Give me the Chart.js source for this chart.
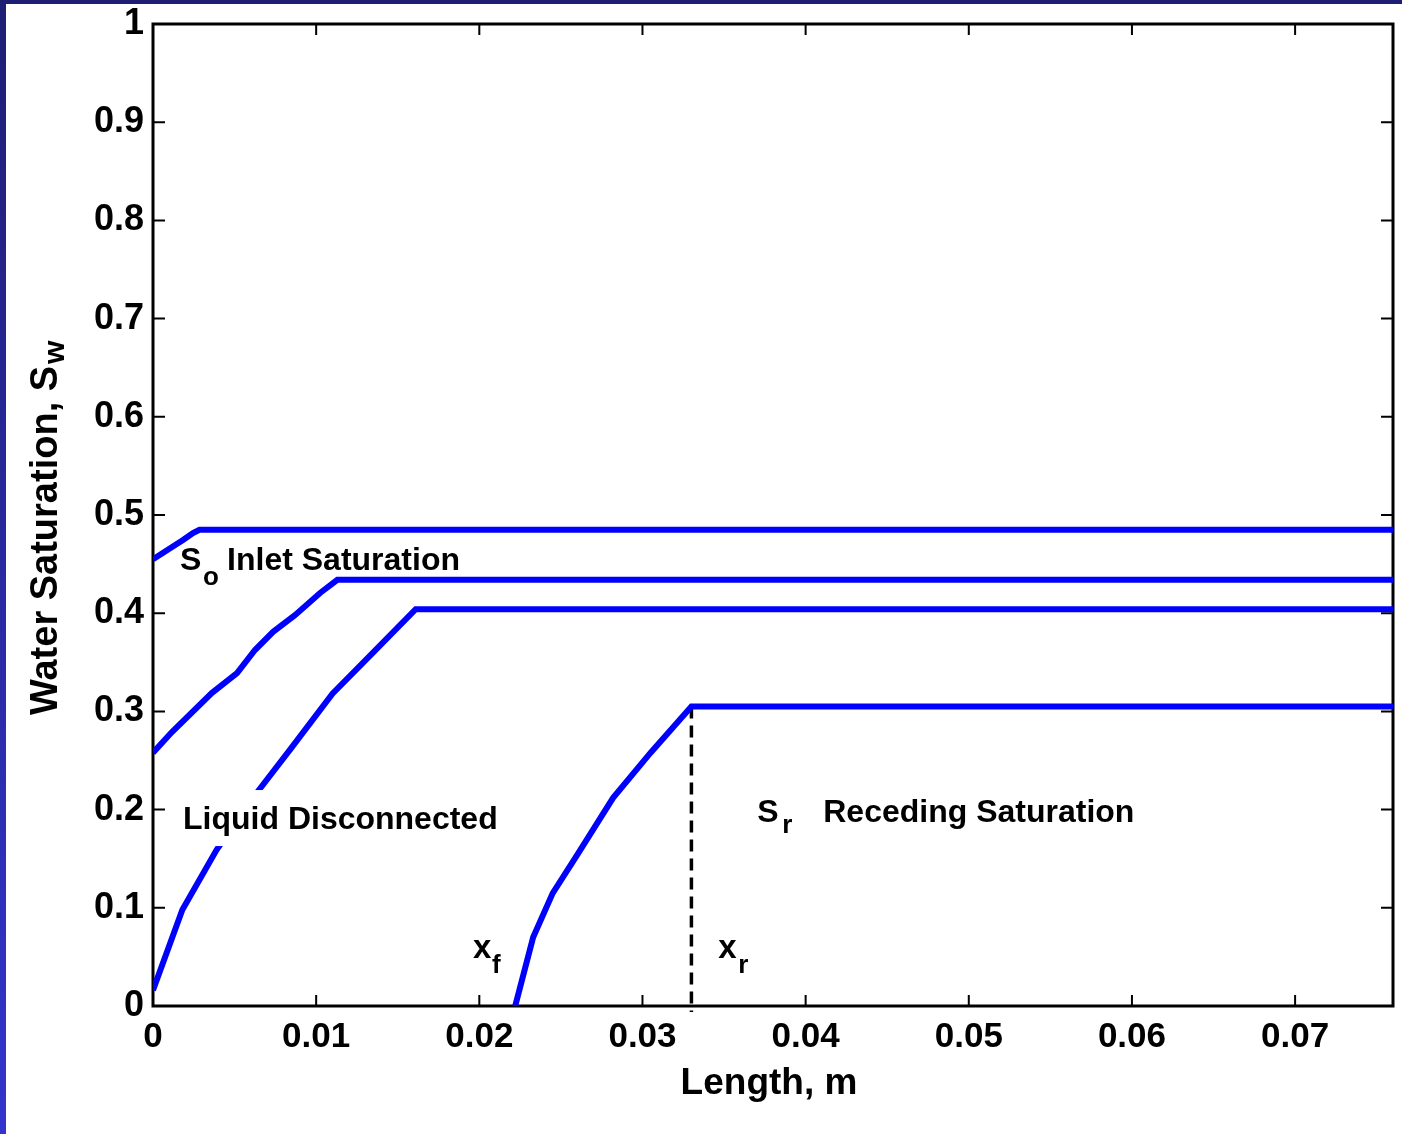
<!DOCTYPE html>
<html>
<head>
<meta charset="utf-8">
<script src="https://cdn.jsdelivr.net/npm/chart.js@4.4.0/dist/chart.umd.min.js"></script>
<style>
html,body{margin:0;padding:0;background:#fff;}
#wrap{position:relative;width:1402px;height:1134px;overflow:hidden;}
#topbar{position:absolute;left:0;top:0;width:1402px;height:4px;background:#1e1e74;}
#leftbar{position:absolute;left:0;top:0;width:6px;height:1134px;background:linear-gradient(#1e1e74,#3434cc);}
canvas{position:absolute;left:0;top:0;}
</style>
</head>
<body>
<div id="wrap">
<canvas id="satChart" width="1402" height="1134"></canvas>
<div id="topbar"></div>
<div id="leftbar"></div>
</div>
<script>
// inlet saturation profile
const inletLen = [0, 0.00117, 0.00184, 0.00245, 0.00285, 0.076];
const inletSw  = [0.455, 0.4674, 0.4745, 0.4817, 0.485, 0.485];

// second profile
const midLen = [0, 0.00116, 0.0036, 0.00515, 0.00625, 0.00736, 0.0087, 0.01024, 0.0113, 0.076];
const midSw  = [0.258, 0.279, 0.3187, 0.339, 0.3625, 0.381, 0.398, 0.4206, 0.434, 0.434];

// liquid disconnected profile
const discLen = [0, 0.0018, 0.0039, 0.0064, 0.0084, 0.011, 0.0135, 0.0161, 0.076];
const discSw  = [0.016, 0.098, 0.159, 0.218, 0.261, 0.318, 0.36, 0.404, 0.404];

// receding profile
const recLen = [0.0222, 0.0233, 0.0245, 0.026, 0.0282, 0.0305, 0.033, 0.076];
const recSw  = [0, 0.070, 0.115, 0.154, 0.212, 0.258, 0.305, 0.305];

// x_r marker
const markLen = [0.033, 0.033];
const markSw  = [0.305, -0.006];

const xTicks = [0, 0.01, 0.02, 0.03, 0.04, 0.05, 0.06, 0.07];

const FONT = "'Liberation Sans', Arial, Helvetica, sans-serif";

const notes = [
    {t:'S', x:0.00166, y:0.444, s:32},
    {t:'o', x:0.00307, y:0.4287, s:26},
    {t:'Inlet Saturation', x:0.00454, y:0.444, s:32},
    {t:'Liquid Disconnected', x:0.00184, y:0.1802, s:32, bg:true},
    {t:'x', x:0.01962, y:0.0489, s:33},
    {t:'f', x:0.02078, y:0.0336, s:26},
    {t:'x', x:0.03464, y:0.0489, s:33},
    {t:'r', x:0.03587, y:0.0336, s:26},
    {t:'S', x:0.03703, y:0.1874, s:32},
    {t:'r', x:0.03857, y:0.1762, s:26},
    {t:'Receding Saturation', x:0.04108, y:0.1874, s:32}
];

function pts(xs, ys){
    return xs.map((v,i) => ({x:v, y:ys[i]}));
}

function curve(xs, ys){
    return {
        data: pts(xs, ys),
        borderColor: '#0000ff',
        borderWidth: 6,
        pointRadius: 0,
        showLine: true,
        fill: false,
        tension: 0
    };
}

const framePlugin = {
    id: 'frame',
    beforeDatasetsDraw(chart){
        const {ctx, chartArea:a, scales:{x, y}} = chart;
        ctx.save();
        ctx.strokeStyle = '#000';
        ctx.lineWidth = 2;
        ctx.beginPath();
        x.ticks.forEach(t => {
            const px = x.getPixelForValue(t.value);
            ctx.moveTo(px, a.bottom); ctx.lineTo(px, a.bottom - 11);
            ctx.moveTo(px, a.top); ctx.lineTo(px, a.top + 11);
        });
        y.ticks.forEach(t => {
            const py = y.getPixelForValue(t.value);
            ctx.moveTo(a.left, py); ctx.lineTo(a.left + 12, py);
            ctx.moveTo(a.right, py); ctx.lineTo(a.right - 12, py);
        });
        ctx.stroke();
        ctx.lineWidth = 3;
        ctx.strokeRect(a.left, a.top, a.right - a.left, a.bottom - a.top);
        ctx.restore();
    },
    afterDatasetsDraw(chart){
        const {ctx, chartArea:a, scales:{x, y}} = chart;
        ctx.save();
        ctx.fillStyle = '#000';
        ctx.textBaseline = 'alphabetic';
        ctx.textAlign = 'left';

        notes.forEach(n => {
            ctx.font = 'bold ' + n.s + 'px ' + FONT;
            const px = x.getPixelForValue(n.x);
            const py = y.getPixelForValue(n.y);
            if (n.bg){
                const w = ctx.measureText(n.t).width;
                ctx.fillStyle = '#fff';
                ctx.fillRect(px - 8, py - 39, w + 16, 56);
                ctx.fillStyle = '#000';
            }
            ctx.fillText(n.t, px, py);
        });

        // x axis title
        ctx.font = 'bold 37px ' + FONT;
        ctx.textAlign = 'center';
        ctx.fillText('Length, m', (a.left + a.right) / 2 - 4, a.bottom + 88);

        // y axis title with subscript
        ctx.translate(57, a.bottom - 291);
        ctx.rotate(-Math.PI / 2);
        ctx.textAlign = 'left';
        ctx.font = 'bold 38px ' + FONT;
        const main = 'Water Saturation, S';
        const mw = ctx.measureText(main).width;
        ctx.fillText(main, 0, 0);
        ctx.font = 'bold 30px ' + FONT;
        ctx.fillText('w', mw + 2, 7);
        ctx.restore();
    }
};

function fmt(v){
    return String(Number(v.toFixed(3)));
}

new Chart(
    document.getElementById("satChart"),
    {
        type: 'scatter',
        data: {
            datasets: [
                curve(inletLen, inletSw),
                curve(midLen, midSw),
                curve(discLen, discSw),
                curve(recLen, recSw),
                {
                    data: pts(markLen, markSw),
                    borderColor: '#000',
                    borderWidth: 3.5,
                    borderDash: [12, 7],
                    pointRadius: 0,
                    showLine: true,
                    clip: false
                }
            ]
        },
        options: {
            responsive: false,
            animation: false,
            events: [],
            layout: { padding: { top: 24, right: 9, left: 0, bottom: 0 } },
            plugins: { legend: { display: false }, tooltip: { enabled: false } },
            scales: {
                x: {
                    type: 'linear',
                    min: 0,
                    max: 0.076,
                    afterBuildTicks: s => { s.ticks = xTicks.map(v => ({value: v})); },
                    afterFit: s => {
                        s.height = 128;
                        s.paddingLeft = 0; s.paddingRight = 0;
                    },
                    grid: { display: false, drawTicks: false },
                    border: { display: false },
                    ticks: {
                        maxRotation: 0,
                        autoSkip: false,
                        padding: 10,
                        color: '#000',
                        font: { family: FONT, size: 35, weight: 'bold' },
                        callback: v => fmt(v)
                    }
                },
                y: {
                    type: 'linear',
                    min: 0,
                    max: 1,
                    afterFit: s => {
                        s.width = 153;
                        s.paddingTop = 0; s.paddingBottom = 0;
                    },
                    grid: { display: false, drawTicks: false },
                    border: { display: false },
                    ticks: {
                        stepSize: 0.1,
                        padding: 9,
                        color: '#000',
                        font: { family: FONT, size: 36, weight: 'bold' },
                        callback: v => fmt(v)
                    }
                }
            }
        },
        plugins: [framePlugin]
    }
);
</script>
</body>
</html>
